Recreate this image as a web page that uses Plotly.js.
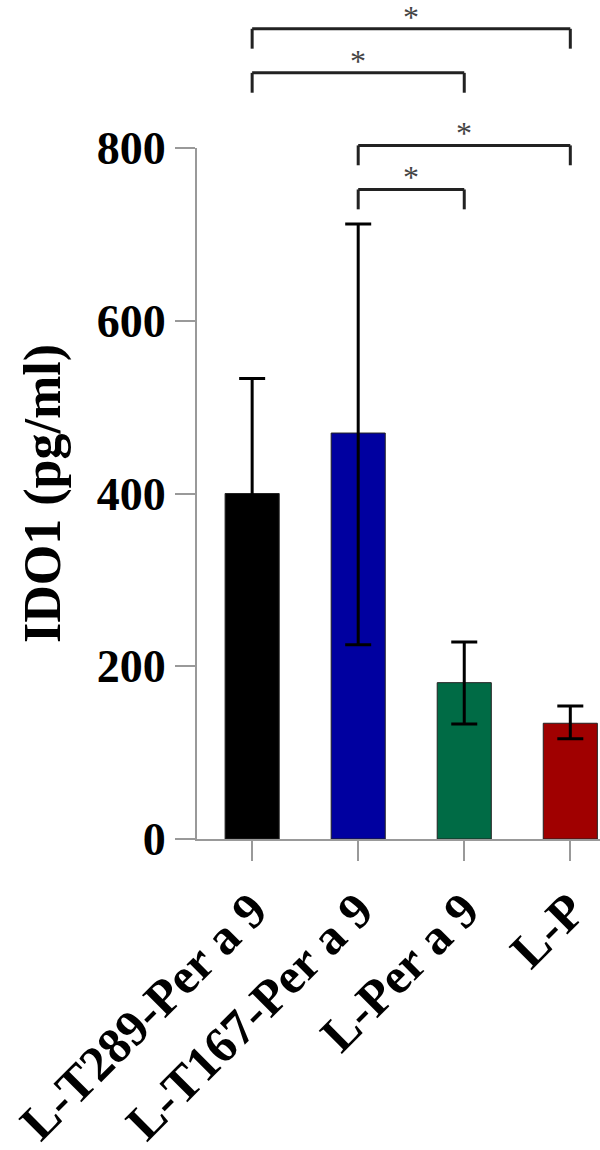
<!DOCTYPE html>
<html>
<head>
<meta charset="utf-8">
<script src="https://cdn.plot.ly/plotly-3.0.1.min.js"></script>
<style>html,body{margin:0;padding:0;background:#fff}#chart{width:600px;height:1150px}</style>
</head>
<body>
<div id="chart"></div>
<script>
// ---- data ----
const categories = ["L-T289-Per a 9", "L-T167-Per a 9", "L-Per a 9", "L-P"];
const means = [400, 470, 181, 134];
const errPlus = [133, 242, 47, 20];
const errMinus = [133, 245, 48, 18];
const barColors = ["#000000", "#0000A0", "#006B45", "#A00000"];
const yTicks = [0, 200, 400, 600, 800];
// significance comparisons: [from index, to index], bracket level (pg/ml), label
const compFrom = [0, 0, 1, 1];
const compTo = [3, 2, 3, 2];
const compLevel = [938, 887, 803, 752];
const compLabel = ["*", "*", "*", "*"];

const yRange = [0, 800];
const legLen = 23; // in data units
const idx = categories.map((_, i) => i);
const toPaper = v => (v - yRange[0]) / (yRange[1] - yRange[0]);

const font = {family: "Liberation Serif, Times New Roman, serif", color: "#000", weight: "bold"};

const trace = {
  type: "bar",
  x: idx,
  y: means,
  width: 0.51,
  marker: {color: barColors, line: {color: "#222", width: 1}},
  error_y: {type: "data", symmetric: false, array: errPlus, arrayminus: errMinus,
            color: "#000", thickness: 3, width: 13},
  hoverinfo: "none"
};

const shapes = [];
const annotations = [];
compFrom.forEach((a, k) => {
  const b = compTo[k];
  const top = toPaper(compLevel[k]);
  const leg = toPaper(compLevel[k] - legLen);
  const ln = {color: "#222", width: 3};
  shapes.push({type: "line", xref: "x", yref: "paper", x0: a, x1: b, y0: top, y1: top, line: ln});
  shapes.push({type: "line", xref: "x", yref: "paper", x0: a, x1: a, y0: top, y1: leg, line: ln});
  shapes.push({type: "line", xref: "x", yref: "paper", x0: b, x1: b, y0: top, y1: leg, line: ln});
  annotations.push({xref: "x", yref: "paper", x: (a + b) / 2, y: top, yanchor: "middle",
    text: compLabel[k], showarrow: false, yshift: 12,
    font: {family: font.family, size: 32, color: "#444"}});
});

const layout = {
  width: 600, height: 1150,
  margin: {l: 197, r: 0, t: 148, b: 311, pad: 0},
  paper_bgcolor: "#fff", plot_bgcolor: "#fff",
  showlegend: false,
  xaxis: {
    range: [-0.52, 3.28], tickvals: idx, ticktext: categories,
    showline: true, linecolor: "#999", linewidth: 2,
    ticks: "outside", ticklen: 20, tickwidth: 2, tickcolor: "#999",
    tickangle: -45, tickfont: Object.assign({}, font, {size: 50}),
    showgrid: false, zeroline: false, fixedrange: true
  },
  yaxis: {
    range: yRange, tickvals: yTicks,
    showline: true, linecolor: "#999", linewidth: 2,
    ticks: "outside", ticklen: 20, tickwidth: 2, tickcolor: "#999",
    tickfont: Object.assign({}, font, {size: 46}),
    showgrid: false, zeroline: false, fixedrange: true,
    title: {text: "IDO1 (pg/ml)", font: Object.assign({}, font, {size: 52}), standoff: 20}
  },
  shapes: shapes,
  annotations: annotations
};

Plotly.newPlot("chart", [trace], layout, {staticPlot: true, displayModeBar: false});
</script>
</body>
</html>
